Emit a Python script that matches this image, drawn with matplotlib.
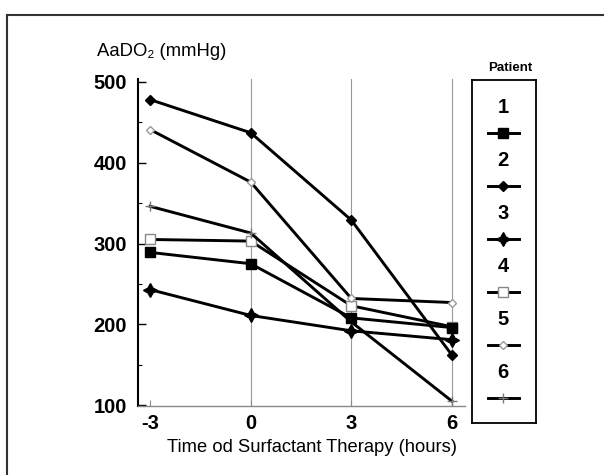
import matplotlib
matplotlib.use("Agg")
import matplotlib.pyplot as plt
from matplotlib.lines import Line2D

plt.rcParams['font.family'] = ['Liberation Sans', 'DejaVu Sans']

# data
hours = [-3, 0, 3, 6]
patients = ['1', '2', '3', '4', '5', '6']
p1 = [289, 275, 208, 196]
p2 = [478, 437, 329, 162]
p3 = [243, 211, 192, 181]
p4 = [305, 303, 223, 197]
p5 = [441, 376, 232, 227]
p6 = [346, 313, 203, 105]
series = [p1, p2, p3, p4, p5, p6]

# marker styles per patient
styles = [
    dict(marker='s', ms=7.5, mfc='black', mec='black'),
    dict(marker='D', ms=5, mfc='black', mec='black'),
    dict(marker=(4, 1, 0), ms=10, mfc='black', mec='black'),
    dict(marker='s', ms=6.5, mfc='white', mec='#888888', mew=1),
    dict(marker='D', ms=4.5, mfc='white', mec='#999999', mew=1),
    dict(marker='+', ms=7, mfc='none', mec='#777777', mew=1),
]

fig = plt.figure(figsize=(6.04, 4.75), dpi=100)
ax = fig.add_axes([138/604, 1-406/475, (465-138)/604, (406-79)/475])

# grid lines at 0, 3, 6
for h in hours[1:]:
    ax.axvline(h, color='#999999', lw=0.8, zorder=0)

# open-marker patients first so the filled markers sit on top
for i in [3, 4, 5, 0, 1, 2]:
    ax.plot(hours, series[i], color='black', lw=2.1, **styles[i])

ax.set_xlim(-3.36, 6.39)
ax.set_ylim(99, 503.5)
ax.set_xticks(hours)
ax.set_yticks([100, 200, 300, 400, 500])
ax.set_yticks([150, 250, 350, 450], minor=True)
ax.set_xticklabels(['-3', '0', '3', '6'])
for lab in ax.get_xticklabels() + ax.get_yticklabels():
    lab.set_fontweight('bold')
    lab.set_fontsize(14.5)
ax.tick_params(axis='y', direction='in', length=6, width=1, pad=8)
ax.tick_params(axis='y', which='minor', direction='in', length=3, width=0.8)
ax.tick_params(axis='x', direction='in', length=4, width=0.8, color='#888888', pad=6)
for s in ['top', 'right']:
    ax.spines[s].set_visible(False)
ax.spines['left'].set_linewidth(1.5)
ax.spines['bottom'].set_color('#888888')
ax.spines['bottom'].set_linewidth(1)

fig.text(97/604, 1-52/475, 'AaDO\u2082 (mmHg)', fontsize=13.3, va='center', ha='left')
fig.text(312/604, 1-448/475, 'Time od Surfactant Therapy (hours)', fontsize=13.2,
         va='center', ha='center')

# legend box drawn by hand: number above its sample line
lax = fig.add_axes([472/604, 1-423/475, 64/604, 343/475])
lax.set_xlim(0, 1)
lax.set_ylim(0, 1)
lax.set_xticks([])
lax.set_yticks([])
for s in lax.spines.values():
    s.set_linewidth(1.3)
for i, (name, st) in enumerate(zip(patients, styles)):
    y = 0.921 - i * 0.1545
    lax.text(0.49, y, name, fontsize=14.5, fontweight='bold', ha='center', va='center')
    lax.add_line(Line2D([0.25, 0.73], [y - 0.0758] * 2, color='black', lw=2.1))
    lax.plot([0.49], [y - 0.0758], color='black', **st)
fig.text(510/604, 1-68/475, 'Patient', fontsize=9.5, fontweight='bold', ha='center', va='center')

# outer frame (top and left edges visible in the scan)
fig.add_artist(Line2D([7/604, 1], [1-15/475, 1-15/475], color='#333333', lw=1.5))
fig.add_artist(Line2D([7/604, 7/604], [0, 1-15/475], color='#333333', lw=1.5))

fig.savefig('out.png', dpi=100)
